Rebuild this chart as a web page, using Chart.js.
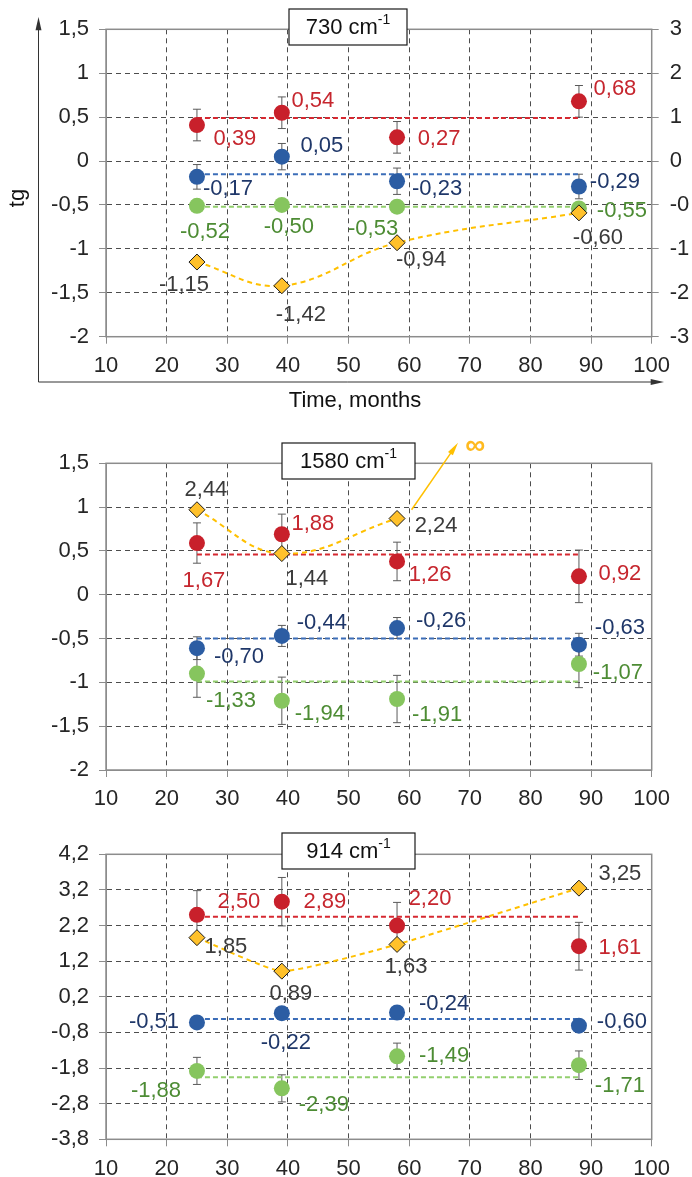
<!DOCTYPE html>
<html>
<head>
<meta charset="utf-8">
<script src="https://cdn.jsdelivr.net/npm/chart.js@4.4.1/dist/chart.umd.min.js"></script>
<style>
  body { margin: 0; background: #fff; width: 692px; height: 1177px; position: relative; overflow: hidden; }
  canvas { position: absolute; left: 0; }
</style>
</head>
<body>
<canvas id="c730" width="692" height="420" style="top:0"></canvas>
<canvas id="c1580" width="692" height="400" style="top:420px"></canvas>
<canvas id="c914" width="692" height="357" style="top:820px"></canvas>
<script>
// ---- data ----
const months = [25, 39, 58, 88];
const meanSpan = [25, 88];
const xTicks = [10, 20, 30, 40, 50, 60, 70, 80, 90, 100];

// 730 cm-1
const yTicks730 = [-2, -1.5, -1, -0.5, 0, 0.5, 1, 1.5];
const rightTicks730 = [-3, -2.143, -1.286, -0.429, 0.429, 1.286, 2.143, 3];
const red730 = [0.41, 0.55, 0.27, 0.68];
const redErr730 = [0.18, 0.18, 0.18, 0.18];
const redMean730 = 0.49;
const redText730 = ['0,39', '0,54', '0,27', '0,68'];
const blue730 = [-0.18, 0.05, -0.23, -0.29];
const blueErr730 = [0.14, 0.15, 0.15, 0.14];
const blueMean730 = -0.15;
const blueText730 = ['-0,17', '0,05', '-0,23', '-0,29'];
const green730 = [-0.51, -0.5, -0.52, -0.54];
const greenErr730 = [0.04, 0.04, 0.04, 0.04];
const greenMean730 = -0.52;
const greenText730 = ['-0,52', '-0,50', '-0,53', '-0,55'];
const yellow730 = [-1.15, -1.42, -0.93, -0.59];
const yellowText730 = ['-1,15', '-1,42', '-0,94', '-0,60'];

// 1580 cm-1
const yTicks1580 = [-2, -1.5, -1, -0.5, 0, 0.5, 1, 1.5];
const red1580 = [0.59, 0.69, 0.38, 0.21];
const redErr1580 = [0.23, 0.23, 0.22, 0.3];
const redMean1580 = 0.46;
const redText1580 = ['1,67', '1,88', '1,26', '0,92'];
const blue1580 = [-0.61, -0.47, -0.38, -0.57];
const blueErr1580 = [0.13, 0.12, 0.12, 0.13];
const blueMean1580 = -0.5;
const blueText1580 = ['-0,70', '-0,44', '-0,26', '-0,63'];
const green1580 = [-0.9, -1.21, -1.19, -0.79];
const greenErr1580 = [0.27, 0.27, 0.27, 0.27];
const greenMean1580 = -0.99;
const greenText1580 = ['-1,33', '-1,94', '-1,91', '-1,07'];
const yellowMonths1580 = [25, 39, 58];
const yellow1580 = [0.97, 0.47, 0.87];
const yellowText1580 = ['2,44', '1,44', '2,24'];
const infArrowX1580 = [60.4, 67.4];
const infArrowY1580 = [0.97, 1.67];
const infMark1580 = [70.9, 1.69];

// 914 cm-1
const yTicks914 = [-3.8, -2.8, -1.8, -0.8, 0.2, 1.2, 2.2, 3.2, 4.2];
const red914 = [2.5, 2.87, 2.2, 1.62];
const redErr914 = [0.68, 0.68, 0.65, 0.67];
const redMean914 = 2.45;
const redText914 = ['2,50', '2,89', '2,20', '1,61'];
const blue914 = [-0.52, -0.26, -0.24, -0.61];
const blueErr914 = [0.08, 0.08, 0.08, 0.08];
const blueMean914 = -0.42;
const blueText914 = ['-0,51', '-0,22', '-0,24', '-0,60'];
const green914 = [-1.88, -2.37, -1.47, -1.72];
const greenErr914 = [0.38, 0.38, 0.37, 0.4];
const greenMean914 = -2.06;
const greenText914 = ['-1,88', '-2,39', '-1,49', '-1,71'];
const yellow914 = [1.86, 0.92, 1.67, 3.25];
const yellowText914 = ['1,85', '0,89', '1,63', '3,25'];

// ---- styles ----
const FONT = 'Liberation Sans, Arial, sans-serif';
const RED = '#C8202B', BLUE = '#2C5DA3', GREEN = '#86C55E', YELLOW = '#FFC12B';
const RED_TXT = '#C6262E', BLUE_TXT = '#1F3769', GREEN_TXT = '#4D8C34', GRAY_TXT = '#3B3B3B';

// label offsets in px from each point
const off730 = {
  red: [[38, 14], [31, -12], [42, 2], [36, -12]],
  blue: [[31, 12], [40, -11], [40, 8], [36, -5]],
  green: [[8, 26], [7, 22], [-24, 22], [43, 2]],
  yellow: [[-13, 23], [19, 29], [24, 17], [19, 25]]
};
const off1580 = {
  yellow: [[9, -20], [25, 25], [39, 7]],
  red: [[7, 38], [31, -10], [33, 13], [41, -2]],
  blue: [[42, 9], [40, -13], [44, -7], [41, -17]],
  green: [[34, 27], [38, 13], [40, 16], [39, 9]]
};
const off914 = {
  red: [[42, -13], [43, 0], [33, -27], [41, 2]],
  yellow: [[29, 9], [9, 23], [9, 23], [41, -14]],
  blue: [[-43, -1], [4, 30], [47, -9], [43, -4]],
  green: [[-41, 20], [42, 17], [47, 0], [41, 21]]
};

function comma(v, digits) {
  return (digits ? v.toFixed(digits) : String(Math.round(v * 10) / 10)).replace('.', ',');
}

function pts(xs, ys) {
  return xs.map((x, i) => ({ x, y: ys[i] }));
}

function meanLine(m, color) {
  return {
    data: meanSpan.map(x => ({ x, y: m })),
    showLine: true, borderColor: color, borderWidth: 2, borderDash: [5, 3],
    pointRadius: 0, order: 5
  };
}

function markers(xs, ys, color) {
  return {
    data: pts(xs, ys), showLine: false, pointRadius: 8,
    pointBackgroundColor: color, pointBorderColor: color, pointBorderWidth: 0, order: 2
  };
}

function yellowLine(xs, ys, tension) {
  return {
    data: pts(xs, ys), showLine: true, borderColor: '#FFC000', borderWidth: 2, borderDash: [5, 4],
    tension, pointStyle: 'rectRot', pointRadius: 8, pointBackgroundColor: YELLOW,
    pointBorderColor: '#1a1a1a', pointBorderWidth: 1, order: 0
  };
}

function drawTitle(ctx, box, main) {
  ctx.save();
  ctx.fillStyle = '#fff';
  ctx.strokeStyle = '#1a1a1a';
  ctx.lineWidth = 1.2;
  ctx.fillRect(box[0], box[1], box[2], box[3]);
  ctx.strokeRect(box[0], box[1], box[2], box[3]);
  ctx.font = '22px ' + FONT;
  const w1 = ctx.measureText(main).width;
  ctx.font = '14px ' + FONT;
  const w2 = ctx.measureText('-1').width;
  const sx = box[0] + (box[2] - w1 - w2) / 2;
  const cy = box[1] + box[3] / 2 + 1;
  ctx.fillStyle = '#111';
  ctx.textBaseline = 'middle';
  ctx.textAlign = 'left';
  ctx.font = '22px ' + FONT;
  ctx.fillText(main, sx, cy);
  ctx.font = '14px ' + FONT;
  ctx.fillText('-1', sx + w1, cy - 8);
  ctx.restore();
}

function overlay(spec) {
  return {
    id: 'overlay',
    beforeDatasetsDraw(chart) {
      const { ctx, chartArea: a, scales: { x, y } } = chart;
      ctx.save();
      ctx.setLineDash([]);
      ctx.strokeStyle = '#8c8c8c';
      ctx.lineWidth = 1.5;
      ctx.strokeRect(a.left, a.top, a.right - a.left, a.bottom - a.top);
      ctx.strokeStyle = '#5a5a5a';
      ctx.lineWidth = 1;
      spec.errorBars.forEach(([vals, errs]) => {
        vals.forEach((v, i) => {
          const px = x.getPixelForValue(months[i]);
          const t = y.getPixelForValue(v + errs[i]);
          const b = y.getPixelForValue(v - errs[i]);
          ctx.beginPath();
          ctx.moveTo(px, t); ctx.lineTo(px, b);
          ctx.moveTo(px - 4, t); ctx.lineTo(px + 4, t);
          ctx.moveTo(px - 4, b); ctx.lineTo(px + 4, b);
          ctx.stroke();
        });
      });
      ctx.restore();
    },
    afterDatasetsDraw(chart) {
      const { ctx, scales: { x, y } } = chart;
      ctx.save();
      ctx.font = '22px ' + FONT;
      ctx.textAlign = 'center';
      ctx.textBaseline = 'middle';
      spec.labels.forEach(l => {
        ctx.fillStyle = l.color;
        l.texts.forEach((t, i) => {
          const px = x.getPixelForValue(l.xs[i]) + l.off[i][0];
          const py = y.getPixelForValue(l.ys[i]) + l.off[i][1];
          ctx.fillText(t, px, py);
        });
      });
      ctx.restore();
    },
    afterDraw(chart) {
      drawTitle(chart.ctx, spec.box, spec.title);
      if (spec.extra) spec.extra(chart);
    }
  };
}

function makeChart(id, spec) {
  const tickFont = { family: FONT, size: 22 };
  const scales = {
    x: {
      type: 'linear', min: 10, max: 100,
      afterBuildTicks: s => { s.ticks = xTicks.map(v => ({ value: v })); },
      afterFit: s => { s.height = spec.xHeight; },
      grid: { color: '#4d4d4d', tickColor: '#8c8c8c', tickLength: 7, tickBorderDash: [] },
      border: { color: '#8c8c8c', dash: [5, 4] },
      ticks: { color: '#262626', font: tickFont, padding: 9, maxRotation: 0, autoSkip: false }
    },
    y: {
      type: 'linear', min: spec.yTicks[0], max: spec.yTicks[spec.yTicks.length - 1],
      afterBuildTicks: s => { s.ticks = spec.yTicks.map(v => ({ value: v })); },
      afterFit: s => { s.width = 106; },
      grid: { color: '#4d4d4d', tickColor: '#8c8c8c', tickLength: 7, tickBorderDash: [] },
      border: { color: '#8c8c8c', dash: [5, 4] },
      ticks: { color: '#262626', font: tickFont, padding: 10, autoSkip: false,
        callback: v => comma(v, spec.yDigits) }
    }
  };
  if (spec.rightTicks) {
    scales.y1 = {
      type: 'linear', position: 'right', min: -3, max: 3,
      afterBuildTicks: s => { s.ticks = spec.rightTicks.map(v => ({ value: v })); },
      afterFit: s => { s.width = 692 - 651.7; },
      grid: { drawOnChartArea: false, tickColor: '#8c8c8c', tickLength: 7 },
      border: { color: '#8c8c8c' },
      ticks: { color: '#262626', font: tickFont, padding: 11, autoSkip: false,
        callback: v => v.toFixed(0) }
    };
  }
  return new Chart(document.getElementById(id), {
    type: 'scatter',
    data: { datasets: spec.datasets },
    options: {
      responsive: false,
      animation: false,
      layout: { padding: spec.padding },
      plugins: { legend: { display: false }, tooltip: { enabled: false } },
      scales
    },
    plugins: [overlay(spec)]
  });
}

function arrow(ctx, x1, y1, x2, y2, size, color) {
  const ang = Math.atan2(y2 - y1, x2 - x1);
  ctx.strokeStyle = color;
  ctx.fillStyle = color;
  ctx.beginPath();
  ctx.moveTo(x1, y1);
  ctx.lineTo(x2, y2);
  ctx.stroke();
  ctx.beginPath();
  ctx.moveTo(x2 + Math.cos(ang) * size, y2 + Math.sin(ang) * size);
  ctx.lineTo(x2 + Math.cos(ang + 2.7) * size, y2 + Math.sin(ang + 2.7) * size);
  ctx.lineTo(x2 + Math.cos(ang - 2.7) * size, y2 + Math.sin(ang - 2.7) * size);
  ctx.closePath();
  ctx.fill();
}

// ---- 730 cm-1 ----
makeChart('c730', {
  title: '730 cm', box: [289, 9, 118, 36],
  yTicks: yTicks730, rightTicks: rightTicks730, yDigits: 0,
  xHeight: 40, padding: { top: 29.3, bottom: 43.3, left: 0, right: 0 },
  datasets: [
    yellowLine(months, yellow730, 0.4),
    markers(months, green730, GREEN),
    markers(months, blue730, BLUE),
    markers(months, red730, RED),
    meanLine(redMean730, '#D62830'),
    meanLine(blueMean730, '#3B6DB8'),
    meanLine(greenMean730, '#93CF6E')
  ],
  errorBars: [[red730, redErr730], [blue730, blueErr730], [green730, greenErr730]],
  labels: [
    { xs: months, ys: red730, texts: redText730, off: off730.red, color: RED_TXT },
    { xs: months, ys: blue730, texts: blueText730, off: off730.blue, color: BLUE_TXT },
    { xs: months, ys: green730, texts: greenText730, off: off730.green, color: GREEN_TXT },
    { xs: months, ys: yellow730, texts: yellowText730, off: off730.yellow, color: GRAY_TXT }
  ],
  extra(chart) {
    const ctx = chart.ctx;
    ctx.save();
    ctx.lineWidth = 1;
    arrow(ctx, 38.5, 382, 38.5, 24, 7, '#333');
    arrow(ctx, 38.5, 382, 657, 382, 7, '#333');
    ctx.fillStyle = '#111';
    ctx.font = '22px ' + FONT;
    ctx.textAlign = 'center';
    ctx.textBaseline = 'middle';
    ctx.fillText('Time, months', 355, 401);
    ctx.translate(18, 198);
    ctx.rotate(-Math.PI / 2);
    ctx.fillText('tg', 0, 0);
    ctx.restore();
  }
});

// ---- 1580 cm-1 ----
makeChart('c1580', {
  title: '1580 cm', box: [282, 23, 133, 36],
  yTicks: yTicks1580, yDigits: 0,
  xHeight: 40, padding: { top: 43.3, bottom: 10, left: 0, right: 692 - 651.7 },
  datasets: [
    yellowLine(yellowMonths1580, yellow1580, 0.4),
    markers(months, green1580, GREEN),
    markers(months, blue1580, BLUE),
    markers(months, red1580, RED),
    meanLine(redMean1580, '#D62830'),
    meanLine(blueMean1580, '#3B6DB8'),
    meanLine(greenMean1580, '#93CF6E')
  ],
  errorBars: [[red1580, redErr1580], [blue1580, blueErr1580], [green1580, greenErr1580]],
  labels: [
    { xs: yellowMonths1580, ys: yellow1580, texts: yellowText1580, off: off1580.yellow, color: GRAY_TXT },
    { xs: months, ys: red1580, texts: redText1580, off: off1580.red, color: RED_TXT },
    { xs: months, ys: blue1580, texts: blueText1580, off: off1580.blue, color: BLUE_TXT },
    { xs: months, ys: green1580, texts: greenText1580, off: off1580.green, color: GREEN_TXT }
  ],
  extra(chart) {
    const { ctx, scales: { x, y } } = chart;
    ctx.save();
    ctx.lineWidth = 1.5;
    arrow(ctx, x.getPixelForValue(infArrowX1580[0]), y.getPixelForValue(infArrowY1580[0]),
      x.getPixelForValue(infArrowX1580[1]), y.getPixelForValue(infArrowY1580[1]), 7, '#FFC000');
    ctx.fillStyle = '#FFBA1F';
    ctx.font = 'bold 28px ' + FONT;
    ctx.textAlign = 'center';
    ctx.textBaseline = 'middle';
    ctx.fillText('\u221E', x.getPixelForValue(infMark1580[0]), y.getPixelForValue(infMark1580[1]));
    ctx.restore();
  }
});

// ---- 914 cm-1 ----
makeChart('c914', {
  title: '914 cm', box: [282, 13, 133, 36],
  yTicks: yTicks914, yDigits: 1,
  xHeight: 37.7, padding: { top: 34.3, bottom: 0, left: 0, right: 692 - 651.7 },
  datasets: [
    yellowLine(months, yellow914, 0.15),
    markers(months, green914, GREEN),
    markers(months, blue914, BLUE),
    markers(months, red914, RED),
    meanLine(redMean914, '#D62830'),
    meanLine(blueMean914, '#3B6DB8'),
    meanLine(greenMean914, '#93CF6E')
  ],
  errorBars: [[red914, redErr914], [blue914, blueErr914], [green914, greenErr914]],
  labels: [
    { xs: months, ys: red914, texts: redText914, off: off914.red, color: RED_TXT },
    { xs: months, ys: yellow914, texts: yellowText914, off: off914.yellow, color: GRAY_TXT },
    { xs: months, ys: blue914, texts: blueText914, off: off914.blue, color: BLUE_TXT },
    { xs: months, ys: green914, texts: greenText914, off: off914.green, color: GREEN_TXT }
  ]
});
</script>
</body>
</html>
